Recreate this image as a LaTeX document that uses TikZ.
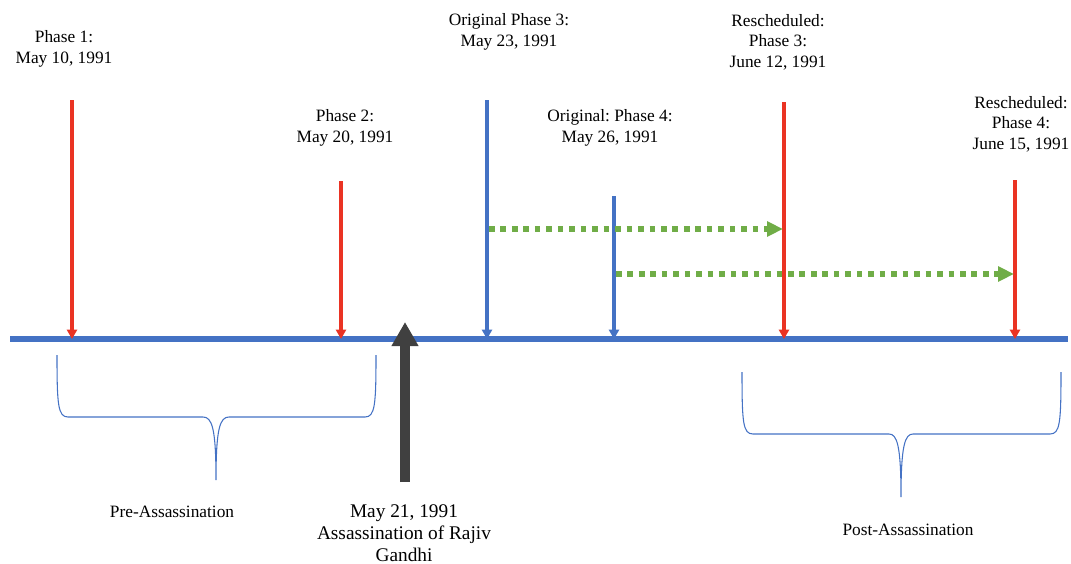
\documentclass[tikz,border=0pt]{standalone}
\usepackage{fontspec}
\setmainfont{Liberation Serif}
\usetikzlibrary{positioning,arrows.meta}
\definecolor{lineblue}{RGB}{68,114,196}
\definecolor{phasered}{RGB}{234,51,35}
\definecolor{shiftgreen}{RGB}{112,173,71}
\definecolor{eventgray}{RGB}{64,64,64}
\frenchspacing

\begin{document}
\begin{tikzpicture}[x=0.75pt, y=-0.75pt, >=Triangle,
    datelab/.style={align=center, inner sep=0pt, font=\fontsize{13}{15.5}\selectfont},
    phase/.style={draw=phasered, line width=2.4pt, -{Triangle[width=7.5pt,length=7pt]}},
    orig/.style={draw=lineblue, line width=2.4pt, -{Triangle[width=7.5pt,length=7pt]}},
    delayline/.style={draw=shiftgreen, line width=4.2pt, dash pattern=on 4.2pt off 4.4pt, -{Triangle[width=11pt,length=12pt]}},
    brace/.style={draw=lineblue, line width=0.8pt}]

  \useasboundingbox (0,0) rectangle (1071,564);

  % timeline
  \coordinate (lineW) at (10,339);
  \coordinate (lineE) at (1068,339);
  \draw[lineblue, line width=4pt] (lineW) -- (lineE);

  % phases as first planned
  \coordinate (p1top) at (72,100);   \coordinate (p1) at (72,339);
  \coordinate (p2top) at (341,181);  \coordinate (p2) at (341,339);
  \coordinate (o3top) at (487,100);  \coordinate (o3) at (487,339);
  \coordinate (o4top) at (614,196);  \coordinate (o4) at (614,339);
  \coordinate (r3top) at (784,102);  \coordinate (r3) at (784,339);
  \coordinate (r4top) at (1015,180); \coordinate (r4) at (1015,339);

  \node[datelab] (p1lab) at (64,49) {Phase 1:\\May 10, 1991};
  \node[datelab] (p2lab) at (345,128) {Phase 2:\\May 20, 1991};
  \node[datelab] (o3lab) at (509,32) {Original Phase 3:\\May 23, 1991};
  \node[datelab] (o4lab) at (610,128) {Original: Phase 4:\\May 26, 1991};
  \node[datelab] (r3lab) at (778,42) {Rescheduled:\\Phase 3:\\June 12, 1991};
  \node[datelab] (r4lab) at (1021,124) {Rescheduled:\\Phase 4:\\June 15, 1991};

  \draw[phase] (p1top) -- (p1);
  \draw[phase] (p2top) -- (p2);
  \draw[orig] (o3top) -- (o3);
  \draw[orig] (o4top) -- (o4);
  \draw[phase] (r3top) -- (r3);
  \draw[phase] (r4top) -- (r4);

  % postponement
  \coordinate (o3mid) at (489,229); \coordinate (r3mid) at (783,229);
  \coordinate (o4mid) at (616,274); \coordinate (r4mid) at (1014,274);
  \draw[delayline] (o3mid) -- (r3mid);
  \draw[delayline] (o4mid) -- (r4mid);

  % assassination
  \coordinate (evbase) at (405,482);
  \coordinate (evtip) at (405,322);
  \draw[eventgray, line width=7pt, -{Triangle[width=19pt,length=18pt]}] (evbase) -- (evtip);
  \node[datelab, font=\fontsize{14.5}{16.5}\selectfont] (evlab) at (404,533) {May 21, 1991\\Assassination of Rajiv\\Gandhi};

  % braces
  \draw[brace] (57,355) .. controls (57,405) and (58,417) .. (68,417) -- (203,417)
    .. controls (212,417) and (216,428) .. (216,480)
    .. controls (216,428) and (220,417) .. (229,417) -- (365,417)
    .. controls (375,417) and (376,405) .. (376,355);
  \draw[brace] (742,372) .. controls (742,423) and (743,434) .. (753,434) -- (889,434)
    .. controls (897,434) and (901,445) .. (901,497)
    .. controls (901,445) and (905,434) .. (913,434) -- (1050,434)
    .. controls (1060,434) and (1061,423) .. (1061,372);
  \node[datelab] (prelab) at (172,512) {Pre-Assassination};
  \node[datelab] (postlab) at (908,530) {Post-Assassination};
\end{tikzpicture}
\end{document}
